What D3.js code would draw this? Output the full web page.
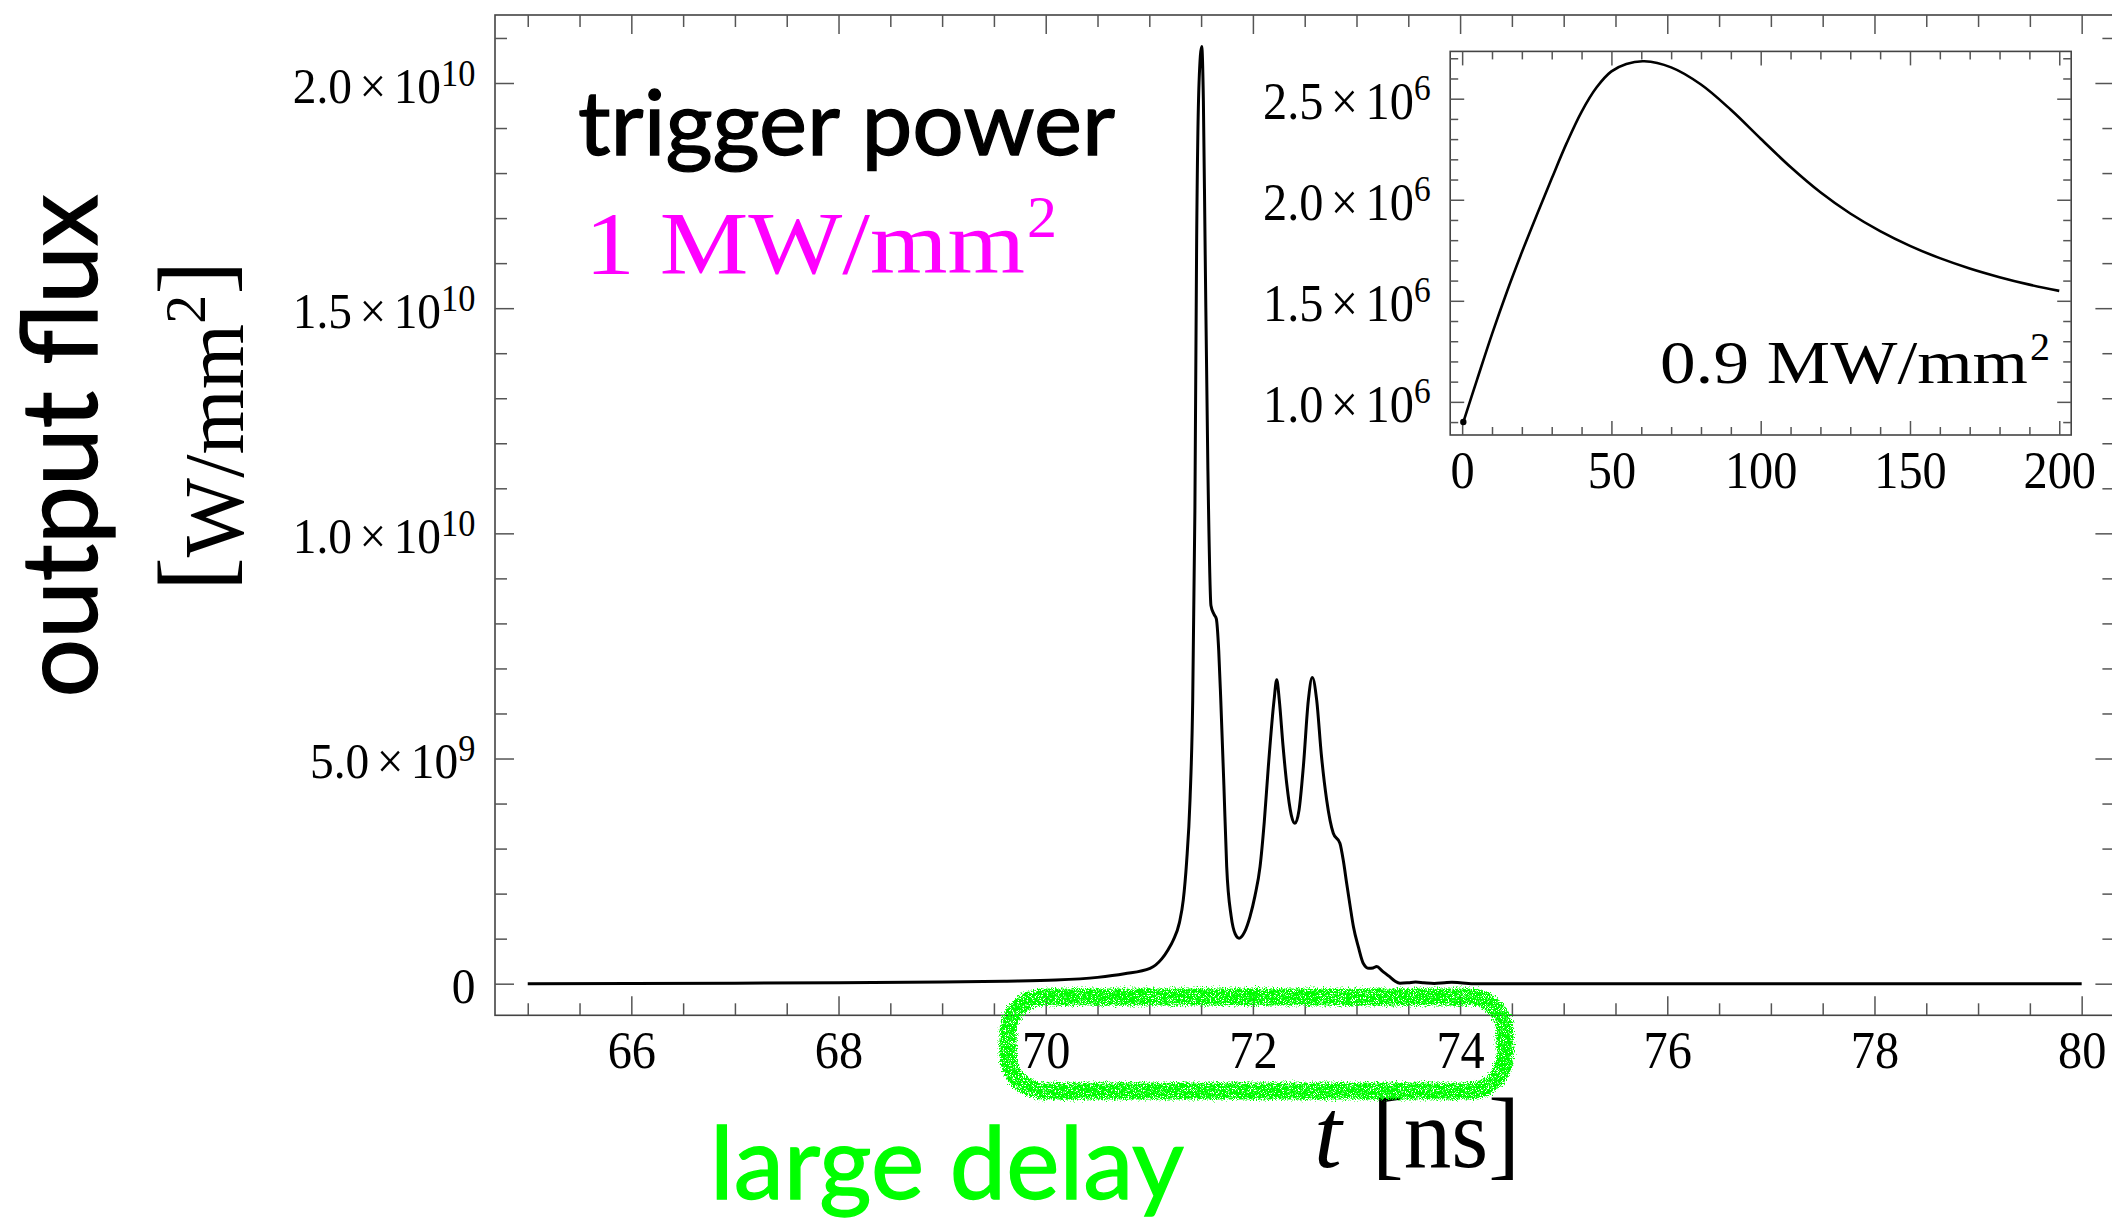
<!DOCTYPE html>
<html>
<head>
<meta charset="utf-8">
<script src="https://cdn.jsdelivr.net/npm/d3@7"></script>
<style>
  html, body { margin: 0; padding: 0; background: #fff; }
  svg { display: block; }
</style>
</head>
<body>
<svg id="chart"></svg>
<script>
// main pulse: t [ns], flux in units of 1e9 W/mm^2
let pulseTime = [65.0, 66, 67, 68, 69, 69.6, 70.1, 70.5, 70.76, 71.007, 71.12, 71.18, 71.232, 71.29, 71.328, 71.36, 71.393, 71.419,
  71.44, 71.457, 71.48, 71.506, 71.522, 71.538, 71.565, 71.595, 71.625, 71.647, 71.67, 71.69, 71.72, 71.747, 71.79, 71.83,
  71.866, 71.92, 71.972, 72.02, 72.069, 72.11, 72.149, 72.204, 72.23, 72.255, 72.29, 72.326, 72.37, 72.406, 72.445, 72.487,
  72.535, 72.573, 72.616, 72.66, 72.712, 72.776, 72.84, 72.875, 72.905, 72.94, 72.97, 73.02, 73.066, 73.12, 73.16, 73.195,
  73.25, 73.32, 73.37, 73.42, 73.5, 73.57, 73.65, 73.75, 73.85, 73.92, 74.0, 74.15, 75, 76, 77, 78, 79, 80];
let pulseFlux = [0, 0.005, 0.01, 0.02, 0.035, 0.055, 0.08, 0.14, 0.22, 0.34, 0.55, 0.75, 0.97, 1.35, 1.86, 2.7, 4.08, 6.29,
  10.5, 16.5, 20.0, 20.81, 19.6, 16.5, 11.5, 8.4, 8.2, 8.1, 7.4, 6.29, 4.4, 2.6, 1.5, 1.1,
  1.01, 1.15, 1.49, 1.95, 2.6, 3.6, 4.82, 6.29, 6.75, 6.29, 5.3, 4.45, 3.75, 3.56, 3.85, 4.82,
  6.29, 6.8, 6.29, 5.1, 4.08, 3.34, 3.12, 2.7, 2.23, 1.7, 1.27, 0.8, 0.45, 0.34, 0.35, 0.38,
  0.28, 0.155, 0.06, 0.01, 0.02, 0.035, 0.02, 0.005, 0.02, 0.03, 0.02, 0, 0, 0, 0, 0, 0, 0];

// inset: t [ns], flux in units of 1e6 W/mm^2
let insetTime = [0.4, 5, 10, 15, 20, 25, 30, 35, 40, 45, 50, 55, 61, 70, 80, 90, 100, 110, 120, 130, 140, 150,
  160, 170, 180, 190, 200];
let insetFlux = [0.90, 1.11, 1.335, 1.545, 1.74, 1.925, 2.105, 2.28, 2.435, 2.555, 2.635, 2.672, 2.685, 2.655, 2.57, 2.445,
  2.302, 2.162, 2.037, 1.932, 1.845, 1.772, 1.711, 1.66, 1.617, 1.58, 1.549];

let mainXTicks = [66, 68, 70, 72, 74, 76, 78, 80];
let mainYTicks = [0, 5, 10, 15, 20];
let mainYMant = ["0", "5.0", "1.0", "1.5", "2.0"];
let mainYExp = ["", "9", "10", "10", "10"];

let insetXTicks = [0, 50, 100, 150, 200];
let insetYTicks = [1.0, 1.5, 2.0, 2.5];
let insetYMant = ["1.0", "1.5", "2.0", "2.5"];
let insetYExp = ["6", "6", "6", "6"];

let width = 2112, height = 1222;
let svg = d3.select("#chart").attr("width", width).attr("height", height);

let defs = svg.append("defs");
let spray = defs.append("filter").attr("id", "spray")
  .attr("x", "-10%").attr("y", "-40%").attr("width", "120%").attr("height", "180%");
spray.append("feTurbulence").attr("type", "fractalNoise").attr("baseFrequency", 0.9)
  .attr("numOctaves", 2).attr("seed", 3).attr("result", "noise");
spray.append("feDisplacementMap").attr("in", "SourceGraphic").attr("in2", "noise")
  .attr("scale", 10).attr("xChannelSelector", "R").attr("yChannelSelector", "G").attr("result", "rough");
spray.append("feTurbulence").attr("type", "fractalNoise").attr("baseFrequency", 1.4)
  .attr("numOctaves", 1).attr("seed", 8).attr("result", "speck");
spray.append("feColorMatrix").attr("in", "speck").attr("type", "matrix")
  .attr("values", "0 0 0 0 0  0 0 0 0 0  0 0 0 0 0  9 0 0 0 -3").attr("result", "mask");
spray.append("feComposite").attr("in", "rough").attr("in2", "mask").attr("operator", "in");

let serif = "'Liberation Serif', 'Times New Roman', serif";
let sans = "Lato, 'Open Sans', sans-serif";

// ticks on a frame edge, pointing inward
function tickRow(axis, tx, ty) {
  let g = svg.append("g").attr("transform", `translate(${tx},${ty})`).call(axis);
  g.select(".domain").remove();
  g.selectAll("line").attr("stroke", "#555").attr("stroke-width", 1.5);
  g.attr("font-family", serif).attr("fill", "#000");
  g.selectAll("text").attr("fill", "#000").attr("transform", "scale(0.93,1)");
  return g;
}

function sciLabels(g, mant, expo, base, supSize, supShift) {
  g.selectAll(".tick text").each(function(d, i) {
    let t = d3.select(this).text(null).attr("dy", null).attr("y", base);
    t.append("tspan").text(mant[i]);
    if (expo[i]) {
      t.append("tspan").attr("dx", 8).text("\u00d7");
      t.append("tspan").attr("dx", 8).text("10");
      t.append("tspan").attr("dy", supShift).attr("font-size", supSize).text(expo[i]);
    }
  });
}

// ---------- main plot ----------
let x = d3.scaleLinear().domain([64.684, 80.316]).range([495, 2114.4]);
let y = d3.scaleLinear().domain([-0.702, 21.51]).range([1015.3, 15]);

let xMinor = d3.range(130, 161).map(d => d / 2).filter(d => d >= x.domain()[0] && mainXTicks.indexOf(d) < 0);
let yMinor = d3.range(0, 22).filter(d => mainYTicks.indexOf(d) < 0);

svg.append("rect").attr("x", 495).attr("y", 15).attr("width", 2114.4 - 495).attr("height", 1015.3 - 15)
  .attr("fill", "none").attr("stroke", "#444").attr("stroke-width", 1.6);

let gxb = tickRow(d3.axisBottom(x).tickValues(mainXTicks).tickSizeInner(-19).tickSizeOuter(0)
  .tickPadding(16).tickFormat(d3.format("d")), 0, 1015.3);
gxb.attr("font-size", 52);
tickRow(d3.axisBottom(x).tickValues(xMinor).tickSizeInner(-12).tickSizeOuter(0).tickFormat(""), 0, 1015.3);
tickRow(d3.axisTop(x).tickValues(mainXTicks).tickSizeInner(-19).tickSizeOuter(0).tickFormat(""), 0, 15);
tickRow(d3.axisTop(x).tickValues(xMinor).tickSizeInner(-12).tickSizeOuter(0).tickFormat(""), 0, 15);

let gyl = tickRow(d3.axisLeft(y).tickValues(mainYTicks).tickSizeInner(-19).tickSizeOuter(0).tickPadding(21), 495, 0);
gyl.attr("font-size", 51);
sciLabels(gyl, mainYMant, mainYExp, 19, 37, -17);
tickRow(d3.axisLeft(y).tickValues(yMinor).tickSizeInner(-12).tickSizeOuter(0).tickFormat(""), 495, 0);
tickRow(d3.axisRight(y).tickValues(mainYTicks).tickSizeInner(-19).tickSizeOuter(0).tickFormat(""), 2114.4, 0);
tickRow(d3.axisRight(y).tickValues(yMinor).tickSizeInner(-12).tickSizeOuter(0).tickFormat(""), 2114.4, 0);

let pulseLine = d3.line()
  .x(i => x(pulseTime[i]))
  .y(i => y(pulseFlux[i]))
  .curve(d3.curveMonotoneX);
svg.append("path").attr("d", pulseLine(d3.range(pulseTime.length)))
  .attr("fill", "none").attr("stroke", "#000").attr("stroke-width", 3).attr("stroke-linejoin", "round");

// ---------- inset ----------
let xi = d3.scaleLinear().domain([-4, 204]).range([1450.2, 2071.2]);
let yi = d3.scaleLinear().domain([0.836, 2.734]).range([435, 51.4]);

let xiMinor = d3.range(0, 201, 10).filter(d => insetXTicks.indexOf(d) < 0);
let yiMinor = d3.range(9, 28).map(d => d / 10).filter(d => [10, 15, 20, 25].indexOf(Math.round(d * 10)) < 0);

svg.append("rect").attr("x", 1450.2).attr("y", 51.4).attr("width", 2071.2 - 1450.2).attr("height", 435 - 51.4)
  .attr("fill", "#fff").attr("stroke", "#444").attr("stroke-width", 1.6);

let gib = tickRow(d3.axisBottom(xi).tickValues(insetXTicks).tickSizeInner(-14).tickSizeOuter(0)
  .tickPadding(16).tickFormat(d3.format("d")), 0, 435);
gib.attr("font-size", 52);
tickRow(d3.axisBottom(xi).tickValues(xiMinor).tickSizeInner(-8).tickSizeOuter(0).tickFormat(""), 0, 435);
tickRow(d3.axisTop(xi).tickValues(insetXTicks).tickSizeInner(-14).tickSizeOuter(0).tickFormat(""), 0, 51.4);
tickRow(d3.axisTop(xi).tickValues(xiMinor).tickSizeInner(-8).tickSizeOuter(0).tickFormat(""), 0, 51.4);

let gil = tickRow(d3.axisLeft(yi).tickValues(insetYTicks).tickSizeInner(-14).tickSizeOuter(0).tickPadding(21), 1450.2, 0);
gil.attr("font-size", 52);
sciLabels(gil, insetYMant, insetYExp, 20, 36, -19);
tickRow(d3.axisLeft(yi).tickValues(yiMinor).tickSizeInner(-8).tickSizeOuter(0).tickFormat(""), 1450.2, 0);
tickRow(d3.axisRight(yi).tickValues(insetYTicks).tickSizeInner(-14).tickSizeOuter(0).tickFormat(""), 2071.2, 0);
tickRow(d3.axisRight(yi).tickValues(yiMinor).tickSizeInner(-8).tickSizeOuter(0).tickFormat(""), 2071.2, 0);

let insetLine = d3.line()
  .x(i => xi(insetTime[i]))
  .y(i => yi(insetFlux[i]))
  .curve(d3.curveCatmullRom);
svg.append("path").attr("d", insetLine(d3.range(insetTime.length)))
  .attr("fill", "none").attr("stroke", "#000").attr("stroke-width", 2.6);
svg.append("circle").attr("cx", xi(insetTime[0])).attr("cy", yi(insetFlux[0])).attr("r", 3.2).attr("fill", "#000");

svg.append("text").attr("x", 1660).attr("y", 383)
  .attr("font-family", serif).attr("font-size", 62)
  .attr("textLength", 368).attr("lengthAdjust", "spacingAndGlyphs")
  .text("0.9 MW/mm");
svg.append("text").attr("x", 2030).attr("y", 360)
  .attr("font-family", serif).attr("font-size", 40).text("2");

// ---------- labels ----------
svg.append("text").attr("transform", "translate(97,446) rotate(-90)")
  .attr("text-anchor", "middle").attr("font-family", sans).attr("font-size", 105)
  .attr("stroke", "#000").attr("stroke-width", 1.4)
  .attr("textLength", 503).attr("lengthAdjust", "spacingAndGlyphs")
  .text("output flux");

let unit = svg.append("text").attr("transform", "translate(243,426) rotate(-90)")
  .attr("text-anchor", "middle").attr("font-family", serif).attr("font-size", 84);
unit.append("tspan").attr("font-size", 102).attr("dy", -15).text("[");
unit.append("tspan").attr("dy", 15).text("W/mm");
unit.append("tspan").attr("dy", -38).attr("font-size", 58).text("2");
unit.append("tspan").attr("font-size", 102).attr("dy", 23).text("]");

svg.append("text").attr("x", 578).attr("y", 155)
  .attr("font-family", sans).attr("font-size", 90)
  .attr("stroke", "#000").attr("stroke-width", 1.3)
  .attr("textLength", 537).attr("lengthAdjust", "spacingAndGlyphs")
  .text("trigger power");

svg.append("text").attr("x", 585).attr("y", 273)
  .attr("font-family", serif).attr("font-size", 88).attr("fill", "#ff00ff")
  .attr("textLength", 440).attr("lengthAdjust", "spacingAndGlyphs")
  .text("1 MW/mm");
svg.append("text").attr("x", 1027).attr("y", 237)
  .attr("font-family", serif).attr("font-size", 60).attr("fill", "#ff00ff").text("2");

svg.append("text").attr("x", 1314).attr("y", 1167)
  .attr("font-family", serif).attr("font-style", "italic").attr("font-size", 100).text("t");
svg.append("text").attr("x", 1372).attr("y", 1167)
  .attr("font-family", serif).attr("font-size", 100)
  .attr("textLength", 148).attr("lengthAdjust", "spacingAndGlyphs")
  .text("[ns]");

svg.append("text").attr("x", 710).attr("y", 1199)
  .attr("font-family", sans).attr("font-size", 100).attr("fill", "#00ff00")
  .attr("stroke", "#00ff00").attr("stroke-width", 1.3)
  .attr("textLength", 474).attr("lengthAdjust", "spacingAndGlyphs")
  .text("large delay");

// green marker round the delay region
svg.append("rect").attr("x", 1008).attr("y", 997).attr("width", 1505 - 1008).attr("height", 1091 - 997)
  .attr("rx", 36).attr("ry", 36)
  .attr("fill", "none").attr("stroke", "#00ff00").attr("stroke-width", 17)
  .attr("filter", "url(#spray)");
</script>
</body>
</html>
